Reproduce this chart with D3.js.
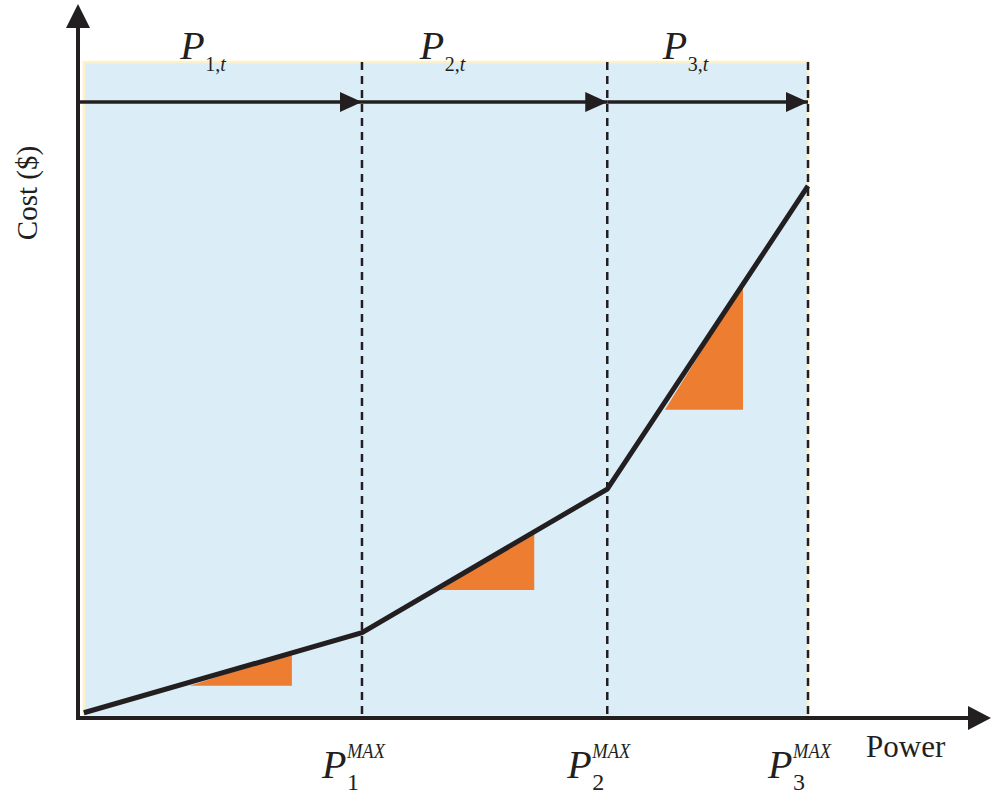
<!DOCTYPE html>
<html>
<head>
<meta charset="utf-8">
<script src="https://cdn.jsdelivr.net/npm/d3@7"></script>
<style>
  html, body { margin: 0; padding: 0; background: #ffffff; }
  svg { display: block; }
  text { font-family: "Liberation Serif", "Times New Roman", Times, serif; fill: #231f20; }
</style>
</head>
<body>
<svg id="chart" width="1000" height="794"></svg>
<script>
// ---- data (arbitrary units) ----
const breakPower = [0.08, 3.89, 7.25, 10];     // piecewise-linear cost curve, power
const breakCost  = [0.08, 1.30, 3.49, 8.11];   // piecewise-linear cost curve, cost
const segmentMax = [3.89, 7.25, 10];           // P_k^MAX
const segmentNames = ["1", "2", "3"];
const segmentLabelX = [1.40, 4.68, 8.01];      // where P_k,t labels start
const triStart = [1.53, 4.96, 8.04];           // orange slope triangles
const triEnd   = [2.93, 6.25, 9.11];
const triBase  = [0.49, 1.95, 4.70];
const arrowLevel = 9.39;

const svg = d3.select("#chart");
const x = d3.scaleLinear().domain([0, 10]).range([78, 808]);
const y = d3.scaleLinear().domain([0, 10]).range([718, 62]);

const ink = "#231f20";
const curve = breakPower.map((p, i) => [p, breakCost[i]]);
const costAt = p => {
  for (let i = 0; i < breakPower.length - 1; i++) {
    if (p <= breakPower[i + 1]) {
      const t = (p - breakPower[i]) / (breakPower[i + 1] - breakPower[i]);
      return breakCost[i] + t * (breakCost[i + 1] - breakCost[i]);
    }
  }
  return breakCost[breakCost.length - 1];
};

// defs: arrowheads
const defs = svg.append("defs");
defs.append("marker").attr("id", "arrowSmall")
  .attr("viewBox", "0 0 22 20").attr("refX", 22).attr("refY", 10)
  .attr("markerUnits", "userSpaceOnUse").attr("markerWidth", 22).attr("markerHeight", 20)
  .attr("orient", "auto")
  .append("path").attr("d", "M0,0 L22,10 L0,20 Z").attr("fill", ink);

// shaded region
svg.append("rect")
  .attr("x", x(breakPower[0])).attr("y", y(10))
  .attr("width", x(10) - x(breakPower[0])).attr("height", y(0.02) - y(10))
  .attr("fill", "#dbeef8").attr("stroke", "#fdf1c9").attr("stroke-width", 2.5);

// dashed verticals
svg.selectAll("line.dash").data(segmentMax).join("line")
  .attr("class", "dash")
  .attr("x1", d => x(d)).attr("x2", d => x(d))
  .attr("y1", y(10)).attr("y2", y(0))
  .attr("stroke", ink).attr("stroke-width", 2.5).attr("stroke-dasharray", "8,6");

// horizontal segment arrows
const segStarts = [0].concat(segmentMax.slice(0, -1));
svg.selectAll("line.seg").data(segmentMax).join("line")
  .attr("class", "seg")
  .attr("x1", (d, i) => x(segStarts[i]) + (i === 0 ? 2 : 0)).attr("x2", d => x(d))
  .attr("y1", y(arrowLevel)).attr("y2", y(arrowLevel))
  .attr("stroke", ink).attr("stroke-width", 3.5)
  .attr("marker-end", "url(#arrowSmall)");

// orange triangles
svg.selectAll("path.tri").data(triStart).join("path")
  .attr("class", "tri")
  .attr("d", (d, i) => `M${x(triStart[i])},${y(triBase[i])} L${x(triEnd[i])},${y(triBase[i])} L${x(triEnd[i])},${y(costAt(triEnd[i]))} Z`)
  .attr("fill", "#ed7d31");

// cost curve
svg.append("path")
  .attr("d", d3.line().x(d => x(d[0])).y(d => y(d[1]))(curve))
  .attr("fill", "none").attr("stroke", ink).attr("stroke-width", 5)
  .attr("stroke-linejoin", "miter");

// axes
svg.append("line").attr("x1", x(0)).attr("x2", x(0)).attr("y1", y(0) + 2).attr("y2", 24)
  .attr("stroke", ink).attr("stroke-width", 4);
svg.append("path").attr("d", `M${x(0)},4 L${x(0) - 12},28 L${x(0) + 12},28 Z`).attr("fill", ink);
svg.append("line").attr("x1", x(0) - 2).attr("x2", 972).attr("y1", y(0)).attr("y2", y(0))
  .attr("stroke", ink).attr("stroke-width", 4);
svg.append("path").attr("d", `M991,${y(0)} L968,${y(0) - 12} L968,${y(0) + 12} Z`).attr("fill", ink);

// top labels P_{k,t}
const topG = svg.selectAll("g.top").data(segmentNames).join("g").attr("class", "top")
  .attr("transform", (d, i) => `translate(${x(segmentLabelX[i])},${y(10) - 3})`);
topG.append("text").attr("x", 0).attr("y", 0)
  .attr("font-size", 40).attr("font-style", "italic").text("P");
topG.append("text").attr("x", 25).attr("y", 12).attr("font-size", 20)
  .each(function(d) {
    const t = d3.select(this);
    t.append("tspan").text(d + ",");
    t.append("tspan").attr("font-style", "italic").text("t");
  });

// bottom labels P_k^MAX
const botG = svg.selectAll("g.bot").data(segmentMax).join("g").attr("class", "bot")
  .attr("transform", d => `translate(${x(d) - 40},${y(0) + 60})`);
botG.append("text").attr("x", 0).attr("y", 0)
  .attr("font-size", 40).attr("font-style", "italic").text("P");
botG.append("text").attr("x", 25).attr("y", -20).attr("font-size", 21)
  .attr("font-style", "italic").attr("textLength", 38).attr("lengthAdjust", "spacingAndGlyphs").text("MAX");
botG.append("text").attr("x", 25).attr("y", 12).attr("font-size", 24)
  .text((d, i) => segmentNames[i]);

// axis titles
svg.append("text").attr("x", 866).attr("y", 757).attr("font-size", 31).text("Power");
svg.append("text").attr("transform", "translate(37,193) rotate(-90)")
  .attr("text-anchor", "middle").attr("font-size", 29).text("Cost ($)");
</script>
</body>
</html>
